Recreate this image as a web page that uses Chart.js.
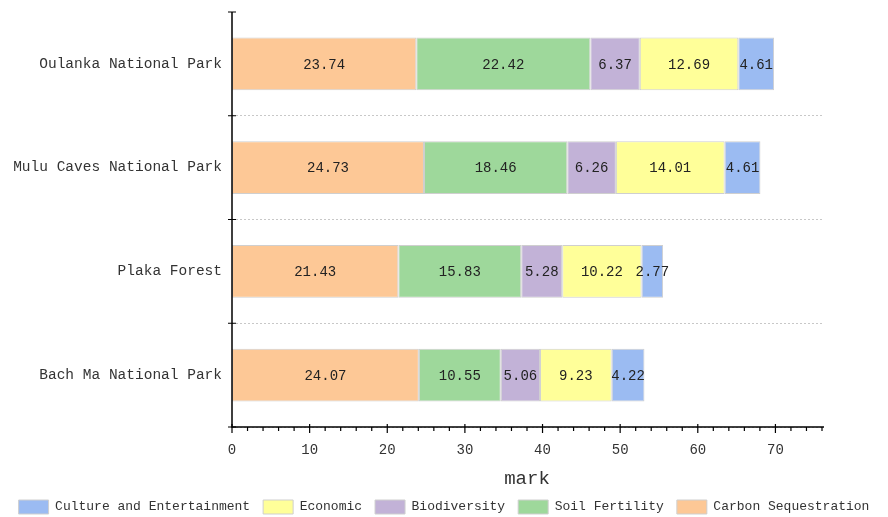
<!DOCTYPE html>
<html>
<head>
<meta charset="utf-8">
<script src="https://cdn.jsdelivr.net/npm/chart.js@4"></script>
<style>
html, body { margin: 0; padding: 0; background: #fff; }
#wrap { width: 888px; height: 517px; }
</style>
</head>
<body>
<div id="wrap"><canvas id="myChart"></canvas></div>
<script>
var Parks = ['Oulanka National Park', 'Mulu Caves National Park', 'Plaka Forest', 'Bach Ma National Park'];
var Carbon = [23.74, 24.73, 21.43, 24.07];
var Soil = [22.42, 18.46, 15.83, 10.55];
var Bio = [6.37, 6.26, 5.28, 5.06];
var Econ = [12.69, 14.01, 10.22, 9.23];
var Culture = [4.61, 4.61, 2.77, 4.22];
var XTicks = [0, 10, 20, 30, 40, 50, 60, 70];

var FONT = "'Liberation Mono', 'DejaVu Sans Mono', monospace";

// labels in the middle of each segment
var barLabels = {
  id: 'barLabels',
  afterDatasetsDraw: function (chart) {
    var ctx = chart.ctx;
    ctx.save();
    ctx.font = '14px ' + FONT;
    ctx.fillStyle = '#222';
    ctx.textAlign = 'center';
    ctx.textBaseline = 'middle';
    chart.data.datasets.forEach(function (ds, i) {
      chart.getDatasetMeta(i).data.forEach(function (bar, j) {
        var cx = (bar.x + bar.base) / 2;
        ctx.fillText(ds.data[j].toFixed(2), cx, bar.y + 1);
      });
    });
    ctx.restore();
  }
};

// axis lines and tick marks
var axisLines = {
  id: 'axisLines',
  afterDatasetsDraw: function (chart) {
    var ctx = chart.ctx;
    var a = chart.chartArea;
    var x = chart.scales.x, y = chart.scales.y;
    ctx.save();
    ctx.strokeStyle = '#000';
    ctx.lineWidth = 1.5;
    ctx.beginPath();
    ctx.moveTo(a.left, a.top);
    ctx.lineTo(a.left, a.bottom);
    ctx.lineTo(a.right + 2, a.bottom);
    ctx.stroke();
    ctx.lineWidth = 1.2;
    ctx.beginPath();
    // y boundary ticks
    for (var i = 0; i <= Parks.length; i++) {
      var py = y.getPixelForValue(i - 0.5);
      ctx.moveTo(a.left - 4, py);
      ctx.lineTo(a.left + 4, py);
    }
    // x ticks
    for (var v = 0; v <= 76; v += 2) {
      var px = x.getPixelForValue(v);
      if (v % 10 === 0) {
        ctx.moveTo(px, a.bottom - 3);
        ctx.lineTo(px, a.bottom + 6);
      } else {
        ctx.moveTo(px, a.bottom);
        ctx.lineTo(px, a.bottom + 4);
      }
    }
    ctx.stroke();
    ctx.restore();
  }
};

function mk(label, data, color) {
  return {
    label: label,
    data: data,
    backgroundColor: color,
    borderColor: '#cfcfcf',
    borderWidth: 1,
    borderSkipped: false,
    categoryPercentage: 0.51,
    barPercentage: 1
  };
}

function noPad(s, w) {
  s.width = w;
  s.paddingTop = 0;
  s.paddingBottom = 0;
}

new Chart('myChart', {
  type: 'bar',
  data: {
    labels: Parks,
    datasets: [
      mk('Carbon Sequestration', Carbon, '#fdc896'),
      mk('Soil Fertility', Soil, '#9ed89b'),
      mk('Biodiversity', Bio, '#c2b2d7'),
      mk('Economic', Econ, '#ffff99'),
      mk('Culture and Entertainment', Culture, '#9bbbf2')
    ]
  },
  options: {
    indexAxis: 'y',
    responsive: true,
    maintainAspectRatio: false,
    animation: false,
    layout: { padding: { top: 12, right: 0, left: 0, bottom: -7 } },
    scales: {
      x: {
        stacked: true,
        min: 0,
        max: 76,
        afterBuildTicks: function (s) { s.ticks = XTicks.map(function (v) { return { value: v }; }); },
        afterFit: function (s) { s.height = 60; },
        grid: { display: false, drawTicks: false },
        border: { display: false },
        ticks: { font: { family: FONT, size: 14 }, color: '#333', padding: 15, maxRotation: 0 },
        title: { display: true, text: 'mark', font: { family: FONT, size: 19 }, color: '#333', padding: { top: 0, bottom: -3 } }
      },
      y: {
        stacked: true,
        afterFit: function (s) { noPad(s, 232); },
        grid: {
          offset: true,
          drawTicks: false,
          color: function (c) { return c.index === 0 ? 'rgba(0,0,0,0)' : '#c8c8c8'; },
          lineWidth: 1
        },
        border: { display: false, dash: [2, 2] },
        ticks: { font: { family: FONT, size: 14.5 }, color: '#333', padding: 10 }
      },
      yRight: {
        type: 'category',
        labels: Parks,
        position: 'right',
        afterFit: function (s) { noPad(s, 66); },
        grid: { display: false, drawTicks: false },
        border: { display: false },
        ticks: { display: false }
      }
    },
    plugins: {
      legend: {
        position: 'bottom',
        reverse: true,
        labels: {
          font: { family: FONT, size: 13 },
          color: '#333',
          boxWidth: 30,
          boxHeight: 14,
          padding: 13
        }
      },
      tooltip: { enabled: false }
    }
  },
  plugins: [barLabels, axisLines]
});
</script>
</body>
</html>
